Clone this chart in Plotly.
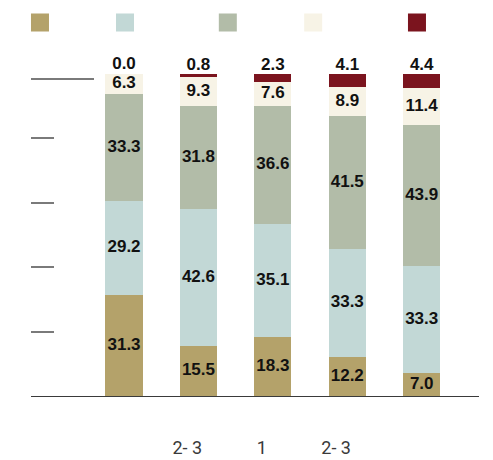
import plotly.graph_objects as go

# ---- data ----
bar_positions = [0, 1, 2, 3, 4]
category_labels = ["", "2- 3", "1", "2- 3", ""]
series_names = ["", "", "", "", ""]
series_colors = ["#B4A26A", "#C2D8D6", "#B2BCA8", "#F7F3E6", "#7B141E"]
brown_vals = [31.3, 15.5, 18.3, 12.2, 7.0]
blue_vals = [29.2, 42.6, 35.1, 33.3, 33.3]
sage_vals = [33.3, 31.8, 36.6, 41.5, 43.9]
cream_vals = [6.3, 9.3, 7.6, 8.9, 11.4]
red_vals = [0.0, 0.8, 2.3, 4.1, 4.4]
series_values = [brown_vals, blue_vals, sage_vals, cream_vals, red_vals]
guide_ticks = [20, 40, 60, 80]
top_guide = [98.3]

# legend positions (container fraction) for each swatch
legend_x = [0.0247, 0.2, 0.412, 0.588, 0.802]

NB = "\u00a0"
tick_text = [t + NB * 5 if t else t for t in category_labels]

fig = go.Figure()
label_font = dict(family="Liberation Sans, Arial, sans-serif",
                  size=17, color="#111111", weight="bold")

base = [0.0] * len(bar_positions)
for i, (name, col, vals) in enumerate(zip(series_names, series_colors, series_values)):
    is_top = i == len(series_values) - 1
    fig.add_trace(go.Bar(
        x=bar_positions, y=vals, name=name,
        marker=dict(color=col, line=dict(width=0)),
        showlegend=False,
        hoverinfo="skip",
    ))
    # value labels, positioned from the data through the axes
    if is_top:
        ys = [b + v for b, v in zip(base, vals)]
        tpos = "top center"
    else:
        ys = [b + v / 2 for b, v in zip(base, vals)]
        tpos = "middle center"
    fig.add_trace(go.Scatter(
        x=bar_positions, y=ys, mode="text",
        text=[f"{v:.1f}" for v in vals], textposition=tpos,
        textfont=label_font, cliponaxis=False,
        showlegend=False, hoverinfo="skip",
    ))
    base = [b + v for b, v in zip(base, vals)]
    leg = "legend" if i == 0 else f"legend{i+1}"
    fig.add_trace(go.Scatter(
        x=[None], y=[None], mode="markers", name=name,
        marker=dict(symbol="square", size=16, color=col, line=dict(color=col, width=2)),
        legend=leg, showlegend=True,
    ))

legend_common = dict(orientation="h", yanchor="top", xanchor="left",
                     xref="container", yref="container",
                     y=1.0, bgcolor="rgba(0,0,0,0)", font=dict(size=12))
layout_legends = {}
for i, lx in enumerate(legend_x):
    key = "legend" if i == 0 else f"legend{i+1}"
    layout_legends[key] = dict(legend_common, x=lx)

fig.update_layout(
    width=485, height=452,
    margin=dict(l=23, r=14, t=65, b=64, autoexpand=False),
    barmode="stack", bargap=0.5,
    plot_bgcolor="white", paper_bgcolor="white",
    **layout_legends,
    xaxis=dict(
        range=[-1.25, 4.77], tickvals=bar_positions, ticktext=tick_text,
        showgrid=False, zeroline=False, showline=True, linecolor="#3a3a3a", linewidth=1.3,
        ticks="", ticklabelstandoff=35,
        tickfont=dict(family="Roboto, sans-serif", size=18, color="#3a3a3a"),
    ),
    yaxis=dict(
        range=[0, 100.3], showgrid=False, zeroline=False, showline=False,
        showticklabels=False, tickmode="array", tickvals=guide_ticks,
        ticks="inside", ticklen=23, tickwidth=1.5, tickcolor="#7a7a7a",
        minor=dict(tickmode="array", tickvals=top_guide, ticks="inside",
                   ticklen=63, tickwidth=1.5, tickcolor="#7a7a7a"),
    ),
)

fig.write_html("out.html")
